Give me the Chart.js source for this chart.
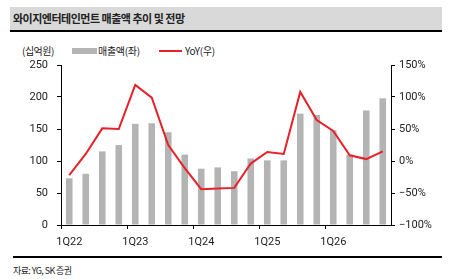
<!DOCTYPE html>
<html>
<head>
<meta charset="utf-8">
<script src="https://cdn.jsdelivr.net/npm/chart.js@4/dist/chart.umd.min.js"></script>
<style>
  body { margin: 0; width: 449px; height: 279px; background: #fff; position: relative; overflow: hidden;
         font-family: "Noto Sans CJK KR", sans-serif; color: #222; }
  .title { position: absolute; left: 10px; top: 7px; width: 429px; height: 23px; background: #d9d9d9;
           border-bottom: 2px solid #000; font-weight: bold; font-size: 11px; line-height: 23px;
           padding-left: 3px; box-sizing: content-box; letter-spacing: -0.5px; }
  .unit { position: absolute; left: 22px; top: 43px; font-size: 10px; letter-spacing: -0.5px; }
  .legend { position: absolute; top: 43px; font-size: 10px; letter-spacing: -0.3px; }
  .box { position: absolute; left: 72px; top: 48px; width: 25px; height: 6px; background: #b4b4b4; }
  .lin { position: absolute; left: 159px; top: 50px; width: 23px; height: 2px; background: #e8202a; }
  .foot { position: absolute; left: 13px; top: 256px; width: 429px; border-top: 2px solid #000; }
  .src { position: absolute; left: 13px; top: 264px; font-size: 9px; letter-spacing: -0.6px; }
  #wrap { position: absolute; left: 0; top: 40px; width: 449px; height: 215px; }
</style>
</head>
<body>
<div class="title">와이지엔터테인먼트 매출액 추이 및 전망</div>
<div class="unit">(십억원)</div>
<div class="box"></div>
<div class="legend" style="left:98px">매출액(좌)</div>
<div class="lin"></div>
<div class="legend" style="left:185px">YoY(우)</div>
<div id="wrap"><canvas id="c"></canvas></div>
<div class="foot"></div>
<div class="src">자료: YG, SK 증권</div>
<script>
const quarters = ['1Q22','2Q22','3Q22','4Q22','1Q23','2Q23','3Q23','4Q23','1Q24','2Q24','3Q24','4Q24',
                  '1Q25','2Q25','3Q25','4Q25','1Q26','2Q26','3Q26','4Q26'];
const sales = [73, 80, 115, 125, 158, 159, 145, 110, 88, 90, 84, 104,
               101, 101, 174, 172, 148, 110, 179, 198];
const yoy = [-22, 11, 51, 50, 119, 99, 25, -11, -44, -43, -42, -4,
             14, 11, 108, 64, 47, 9, 3, 15];
const leftTicks = [0, 50, 100, 150, 200, 250];
const rightTicks = [-100, -50, 0, 50, 100, 150];

const tickFont = { family: 'Roboto', size: 11 };

new Chart(document.getElementById('c'), {
    data: {
        labels: quarters,
        datasets: [
            {
                type: 'line',
                label: 'YoY(우)',
                data: yoy,
                yAxisID: 'y1',
                borderColor: '#e8202a',
                borderWidth: 2,
                pointRadius: 0,
                tension: 0,
                order: 0
            },
            {
                type: 'bar',
                label: '매출액(좌)',
                data: sales,
                yAxisID: 'y',
                backgroundColor: '#b4b4b4',
                categoryPercentage: 1,
                barPercentage: 0.4,
                order: 1
            }
        ]
    },
    options: {
        responsive: true,
        maintainAspectRatio: false,
        animation: false,
        layout: { padding: { top: 25, left: 0, right: 0, bottom: 0 } },
        plugins: { legend: { display: false }, tooltip: { enabled: false } },
        scales: {
            x: {
                offset: true,
                border: { color: '#000', width: 1 },
                grid: {
                    offset: true,
                    drawOnChartArea: false,
                    tickLength: 4,
                    color: (ctx) => ctx.index % 4 === 0 ? '#000' : 'rgba(0,0,0,0)'
                },
                ticks: {
                    autoSkip: false,
                    maxRotation: 0,
                    padding: 7,
                    color: '#222',
                    font: tickFont,
                    callback: function (v, i) { return i % 4 === 0 ? quarters[i] : ''; }
                },
                afterFit: (s) => { s.height = 30; }
            },
            y: {
                position: 'left',
                min: 0,
                max: 250,
                border: { color: '#000', width: 1 },
                grid: { drawOnChartArea: false, tickLength: 4, color: '#000' },
                afterBuildTicks: (s) => { s.ticks = leftTicks.map(v => ({ value: v })); },
                ticks: { padding: 9, color: '#222', font: tickFont },
                afterFit: (s) => { s.width = 61; }
            },
            y1: {
                position: 'right',
                min: -100,
                max: 150,
                border: { color: '#000', width: 1 },
                grid: { drawOnChartArea: false, tickLength: 4, color: '#000' },
                afterBuildTicks: (s) => { s.ticks = rightTicks.map(v => ({ value: v })); },
                ticks: {
                    padding: 4,
                    color: '#222',
                    font: tickFont,
                    callback: (v) => (v < 0 ? '\u2212' + Math.abs(v) : v) + '%'
                },
                afterFit: (s) => { s.width = 58; }
            }
        }
    }
});
</script>
</body>
</html>
